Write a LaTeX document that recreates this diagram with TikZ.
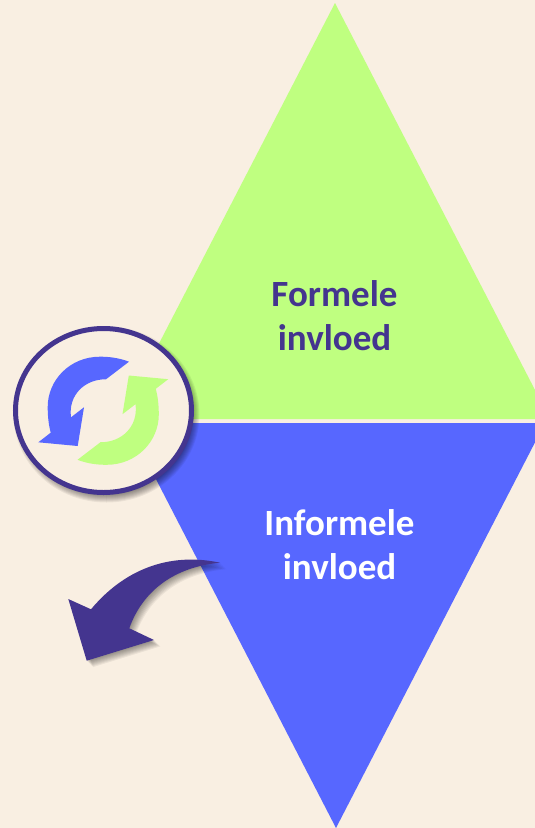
\documentclass[tikz,border=0pt]{standalone}
\usepackage{fontspec}
\setmainfont{Carlito}
\definecolor{bgc}{HTML}{F9EFE2}
\definecolor{greenc}{HTML}{BFFF80}
\definecolor{bluec}{HTML}{5767FF}
\definecolor{purc}{HTML}{44358F}
\newcommand{\bigarrowdraw}[1]{\path[#1] (220,562.7) .. controls (175,553) and (128,565) .. (91,609.3) -- (68.3,599) -- (86.7,660.7) -- (154,640) -- (129.3,628.3) .. controls (143,590) and (175,567) .. (220,562.7) -- cycle;}
\newcommand{\cyclearrowdraw}[1]{\path[#1] (129,361.7) .. controls (118,357.5) and (108,356.7) .. (100,356.7) .. controls (70,356.7) and (47.7,380) .. (47.7,407) .. controls (47.7,418) and (49,426) .. (50.7,432.7) -- (38.3,442.3) -- (77.7,446) -- (84,407.3) -- (71,417.3) .. controls (68,395) and (85,379) .. (106,379.3) -- cycle;}
\begin{document}
\begin{tikzpicture}[x=1pt,y=-1pt,
  txt/.style={font=\fontsize{37}{44}\selectfont\bfseries,align=center,inner sep=0pt}]
\useasboundingbox (0,0) rectangle (535,828);
\fill[bgc] (0,0) rectangle (535,828);
\begin{scope}
\clip (0,0) rectangle (535,828);
\fill[greenc] (335,3) -- (550,419) -- (120,419) -- cycle;
\fill[bluec] (127,423) -- (545,423) -- (336,828) -- cycle;
\end{scope}
\node[txt,text=purc] (formele) at (334.5,316) {Formele\\invloed};
\node[txt,text=white] (informele) at (339.5,545) {Informele\\invloed};
% circle shadow
\foreach \d in {0,1,...,9}{
  \fill[black,opacity=0.06] (106.5,414.5) ellipse ({93-\d} and {88-\d});
}
\fill[bgc,draw=purc,line width=5pt] (103.5,410.5) ellipse (88 and 82);
\cyclearrowdraw{fill=bluec}
\begin{scope}[shift={(206.5,821.5)},xscale=-1,yscale=-1]
\cyclearrowdraw{fill=greenc}
\end{scope}
% curved arrow shadow
\foreach \d in {1,...,8}{
  \bigarrowdraw{fill=black,opacity=0.055,shift={(\d*0.8,\d*0.8)}}
}
\bigarrowdraw{fill=purc}
\end{tikzpicture}
\end{document}
